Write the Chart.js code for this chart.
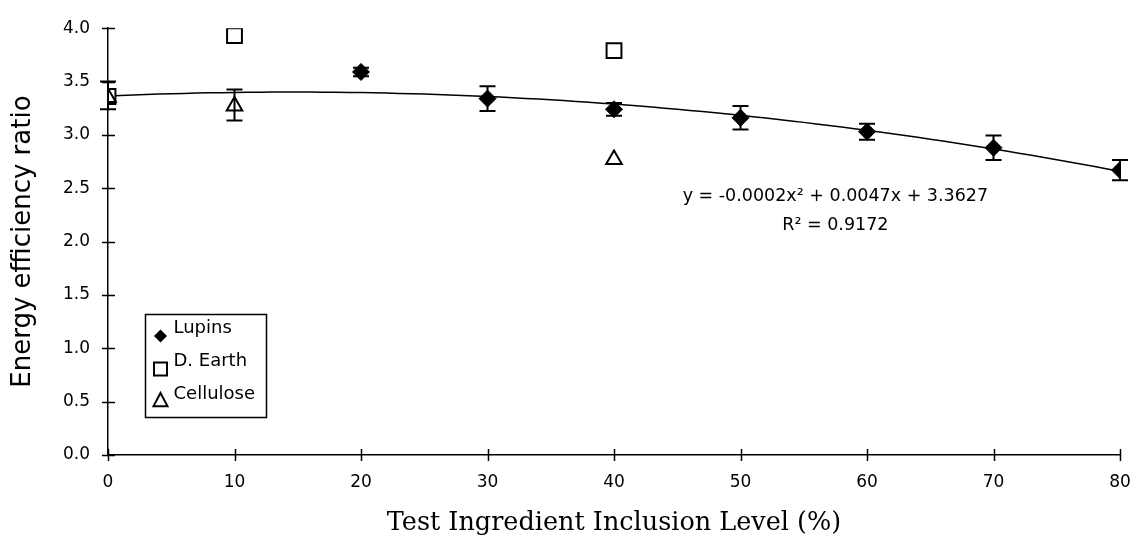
<!DOCTYPE html>
<html>
<head>
<meta charset="utf-8">
<title>Energy efficiency ratio</title>
<script src="https://cdn.jsdelivr.net/npm/chart.js@4.4.1/dist/chart.umd.min.js"></script>
<style>
  html, body { margin: 0; padding: 0; background: #fff; }
</style>
</head>
<body>
<canvas id="eer-chart" width="1136" height="545"></canvas>
<script>
// inclusion levels (%) and energy efficiency ratio per diet
var lupinLevels = [0, 10, 20, 30, 40, 50, 60, 70, 80];
var lupinEER = [3.37, 3.28, 3.59, 3.34, 3.24, 3.16, 3.03, 2.88, 2.67];
var lupinSE = [0.13, 0.145, 0.04, 0.115, 0.06, 0.11, 0.075, 0.115, 0.095];

var earthLevels = [0, 10, 40];
var earthEER = [3.36, 3.93, 3.79];

var celluloseLevels = [0, 10, 40];
var celluloseEER = [3.35, 3.27, 2.77];

var xTicks = [0, 10, 20, 30, 40, 50, 60, 70, 80];
var yTicks = [0, 0.5, 1, 1.5, 2, 2.5, 3, 3.5, 4];

var trendLabel = ['y = -0.0002x\u00b2 + 0.0047x + 3.3627', 'R\u00b2 = 0.9172'];
var legendNames = ['Lupins', 'D. Earth', 'Cellulose'];

function points(xs, ys) {
  return xs.map(function (x, i) { return { x: x, y: ys[i] }; });
}

// least squares fit y = a*x^2 + b*x + c
function quadFit(xs, ys) {
  var s = [0, 0, 0, 0, 0], t = [0, 0, 0];
  for (var i = 0; i < xs.length; i++) {
    var p = 1;
    for (var k = 0; k < 5; k++) {
      s[k] += p;
      if (k < 3) t[k] += p * ys[i];
      p *= xs[i];
    }
  }
  var m = [[s[4], s[3], s[2]], [s[3], s[2], s[1]], [s[2], s[1], s[0]]];
  var r = [t[2], t[1], t[0]];
  function det(q) {
    return q[0][0] * (q[1][1] * q[2][2] - q[1][2] * q[2][1]) -
           q[0][1] * (q[1][0] * q[2][2] - q[1][2] * q[2][0]) +
           q[0][2] * (q[1][0] * q[2][1] - q[1][1] * q[2][0]);
  }
  var d = det(m), out = [];
  for (var c = 0; c < 3; c++) {
    var q = m.map(function (row, j) { var n = row.slice(); n[c] = r[j]; return n; });
    out.push(det(q) / d);
  }
  return out;
}

var coef = quadFit(lupinLevels, lupinEER);
var trendPts = [];
for (var x = 0; x <= 80; x++) {
  trendPts.push({ x: x, y: coef[0] * x * x + coef[1] * x + coef[2] });
}

function drawMarker(ctx, style, x, y, r) {
  ctx.beginPath();
  if (style === 'rectRot') {
    ctx.moveTo(x, y - r); ctx.lineTo(x + r, y); ctx.lineTo(x, y + r); ctx.lineTo(x - r, y);
    ctx.closePath();
    ctx.fillStyle = '#000';
    ctx.fill();
  } else if (style === 'rect') {
    ctx.rect(x - r, y - r, 2 * r, 2 * r);
    ctx.fillStyle = '#fff';
    ctx.fill();
    ctx.stroke();
  } else {
    ctx.moveTo(x, y - r); ctx.lineTo(x + r * 0.93, y + r * 0.75); ctx.lineTo(x - r * 0.93, y + r * 0.75);
    ctx.closePath();
    ctx.fillStyle = '#fff';
    ctx.fill();
    ctx.stroke();
  }
}

var extras = {
  id: 'extras',
  afterDatasetsDraw: function (chart) {
    var ctx = chart.ctx, xs = chart.scales.x, ys = chart.scales.y;
    ctx.save();
    ctx.strokeStyle = '#000';
    ctx.lineWidth = 2;
    // error bars for the lupin diets
    lupinLevels.forEach(function (lv, i) {
      var px = xs.getPixelForValue(lv);
      var top = ys.getPixelForValue(lupinEER[i] + lupinSE[i]);
      var bot = ys.getPixelForValue(lupinEER[i] - lupinSE[i]);
      ctx.beginPath();
      ctx.moveTo(px, top); ctx.lineTo(px, bot);
      ctx.moveTo(px - 8, top); ctx.lineTo(px + 8, top);
      ctx.moveTo(px - 8, bot); ctx.lineTo(px + 8, bot);
      ctx.stroke();
    });
    ctx.restore();
  },
  afterDraw: function (chart) {
    var ctx = chart.ctx, xs = chart.scales.x, ys = chart.scales.y, area = chart.chartArea;
    ctx.save();
    ctx.strokeStyle = '#000';
    ctx.lineWidth = 1.5;
    // tick marks crossing both axes
    ctx.beginPath();
    yTicks.forEach(function (v) {
      var py = Math.round(ys.getPixelForValue(v)) + 0.5;
      ctx.moveTo(area.left - 6, py); ctx.lineTo(area.left + 7, py);
    });
    xTicks.forEach(function (v) {
      var px = Math.round(xs.getPixelForValue(v)) + 0.5;
      ctx.moveTo(px, area.bottom - 6); ctx.lineTo(px, area.bottom + 6);
    });
    ctx.stroke();

    // trendline equation
    ctx.fillStyle = '#000';
    ctx.font = '17.5px "DejaVu Sans"';
    ctx.textAlign = 'center';
    ctx.textBaseline = 'middle';
    ctx.fillText(trendLabel[0], xs.getPixelForValue(57.5), ys.getPixelForValue(2.42));
    ctx.fillText(trendLabel[1], xs.getPixelForValue(57.5), ys.getPixelForValue(2.15));

    // legend box
    var bx = area.left + 37.5, by = area.bottom - 140.5;
    ctx.lineWidth = 1.5;
    ctx.strokeRect(bx, by, 121, 103);
    var styles = ['rectRot', 'rect', 'triangle'];
    var sizes = [6.5, 6.5, 7.5];
    var markY = [21.5, 54.5, 86];
    var textY = [13.5, 46.5, 79.5];
    ctx.font = '18px "DejaVu Sans"';
    ctx.textAlign = 'left';
    for (var i = 0; i < 3; i++) {
      ctx.lineWidth = 2;
      drawMarker(ctx, styles[i], bx + 15, by + markY[i], sizes[i]);
      ctx.fillStyle = '#000';
      ctx.fillText(legendNames[i], bx + 28, by + textY[i]);
    }
    ctx.restore();
  }
};

new Chart(document.getElementById('eer-chart'), {
  type: 'scatter',
  data: {
    datasets: [
      {
        label: 'Cellulose',
        data: points(celluloseLevels, celluloseEER),
        pointStyle: 'triangle',
        pointRadius: 9,
        backgroundColor: '#fff',
        borderColor: '#000',
        borderWidth: 2
      },
      {
        label: 'D. Earth',
        data: points(earthLevels, earthEER),
        pointStyle: 'rect',
        pointRadius: 10.5,
        backgroundColor: '#fff',
        borderColor: '#000',
        borderWidth: 2
      },
      {
        label: 'Lupins',
        data: points(lupinLevels, lupinEER),
        pointStyle: 'rectRot',
        // the 0 and 10 % markers sit under the other diets' symbols
        pointRadius: lupinLevels.map(function (lv) { return lv <= 10 ? 0 : 8.5; }),
        backgroundColor: '#000',
        borderColor: '#000',
        borderWidth: 1
      },
      {
        label: 'Poly. (Lupins)',
        data: trendPts,
        showLine: true,
        pointRadius: 0,
        borderColor: '#000',
        borderWidth: 1.5,
        fill: false
      }
    ]
  },
  options: {
    responsive: false,
    devicePixelRatio: 1,
    animation: false,
    layout: { padding: { top: 28, right: 16, left: 0, bottom: 0 } },
    plugins: {
      legend: { display: false },
      tooltip: { enabled: false }
    },
    scales: {
      x: {
        type: 'linear',
        min: 0,
        max: 80,
        afterFit: function (s) {
          s.height = 90;
          // keep only the half-label overhang on the right
          s.paddingRight = 11;
        },
        afterBuildTicks: function (s) { s.ticks = xTicks.map(function (v) { return { value: v }; }); },
        ticks: {
          color: '#000',
          padding: 17,
          font: { family: 'DejaVu Sans', size: 17 }
        },
        grid: { display: false, drawTicks: false },
        border: { display: true, color: '#000', width: 1.5 },
        title: {
          display: true,
          text: 'Test Ingredient Inclusion Level (%)',
          color: '#000',
          font: { family: 'DejaVu Serif', size: 25.5, lineHeight: 1 },
          padding: { top: 0, bottom: 9 }
        }
      },
      y: {
        min: 0,
        max: 4,
        afterFit: function (s) { s.width = 108; },
        afterBuildTicks: function (s) { s.ticks = yTicks.map(function (v) { return { value: v }; }); },
        ticks: {
          color: '#000',
          padding: 18,
          font: { family: 'DejaVu Sans', size: 17 },
          callback: function (v) { return Number(v).toFixed(1); }
        },
        grid: { display: false, drawTicks: false },
        border: { display: true, color: '#000', width: 1.5 },
        title: {
          display: true,
          text: 'Energy efficiency ratio',
          color: '#000',
          font: { family: 'DejaVu Sans', size: 26, lineHeight: 1 },
          padding: { top: 10, bottom: 0 }
        }
      }
    }
  },
  plugins: [extras]
});
</script>
</body>
</html>
